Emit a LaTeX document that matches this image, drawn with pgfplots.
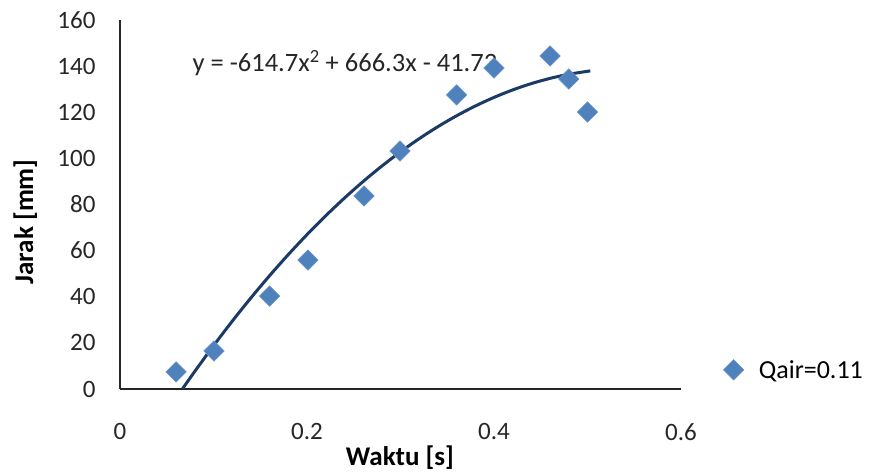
\documentclass[border=0pt]{standalone}
\usepackage{pgfplots}
\pgfplotsset{compat=1.18}
\usepackage{fontspec}
\setmainfont{Carlito}
\definecolor{mk}{HTML}{4F81BD}
\definecolor{tr}{HTML}{1B3A66}
\begin{document}
\begin{tikzpicture}[x=1pt,y=1pt]
\path[use as bounding box] (-120,-84) rectangle (752,389);
\begin{axis}[
  at={(0,0)}, anchor=south west,
  scale only axis, width=561pt, height=369pt,
  xmin=0, xmax=0.6, ymin=0, ymax=160,
  axis x line=bottom, axis y line=left,
  axis line style={-, line width=2.2pt, color=black!85},
  xtick={0,0.2,0.4,0.6}, ytick={0,20,...,160},
  major tick length=0pt,
  xticklabel style={yshift=-31pt},
  yticklabel style={xshift=-21pt},
  /pgf/number format/assume math mode=true,
  /pgf/number format/fixed,
  tick label style={font=\fontsize{25}{29}\selectfont, text=black!85},
  xlabel={\textbf{Waktu [s]}},
  ylabel={\textbf{Jarak [mm]}},
  label style={font=\fontsize{27}{31}\selectfont},
  xlabel style={at={(axis description cs:0.499,-0.187)}, anchor=center},
  ylabel style={at={(axis description cs:-0.169,0.453)}, anchor=center},
  clip=false,
  legend style={at={(rel axis cs:1.07,0.052)}, anchor=west, draw=none, fill=none,
    font=\fontsize{26}{30}\selectfont, row sep=0pt},
  legend cell align=left,
]
\addplot[color=tr, line width=3pt, smooth, forget plot] coordinates {
(0.0667,0) (0.08,7.640) (0.10,18.753) (0.12,29.374) (0.14,39.504) (0.16,49.142)
(0.18,58.288) (0.20,66.942) (0.22,75.105) (0.24,82.775) (0.26,89.954) (0.28,96.642)
(0.30,102.837) (0.32,108.541) (0.34,113.753) (0.36,118.473) (0.38,122.701)
(0.40,126.438) (0.42,129.683) (0.44,132.436) (0.46,134.697) (0.48,136.467)
(0.50,137.745) (0.503,137.93)
};
\addplot[only marks, mark=square*, mark size=7.2pt,
  mark options={rotate=45, fill=mk, draw=mk!85!white, line width=0.6pt}] coordinates {
(0.060,7.4) (0.1005,16.5) (0.160,40.3) (0.201,55.9) (0.261,83.7) (0.2995,103.2)
(0.360,127.5) (0.400,139.2) (0.460,144.4) (0.480,134.4) (0.500,120.1)
};
\addlegendentry{\hspace{13pt}Qair=0.11}
\node[font=\fontsize{26.5}{30}\selectfont, text=black!85] at (axis cs:0.2406,141.4)
  {y = -614.7x\textsuperscript{2} + 666.3x - 41.73};
\end{axis}
\end{tikzpicture}
\end{document}
